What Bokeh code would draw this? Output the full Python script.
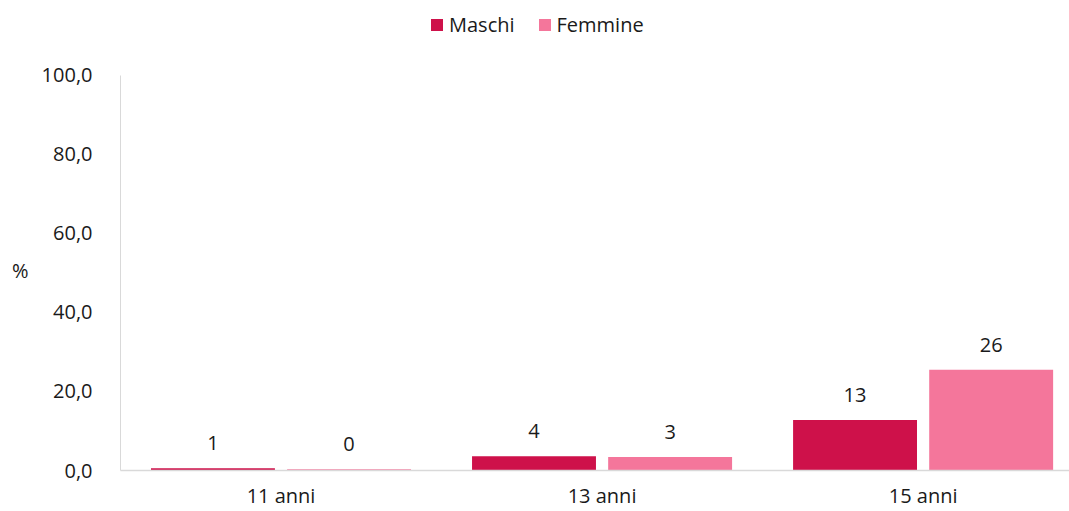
from bokeh.plotting import figure
from bokeh.models import (ColumnDataSource, Range1d, FixedTicker, LabelSet,
                          Legend, LegendItem, CustomJSTickFormatter)
from bokeh.core.properties import value
from bokeh.transform import dodge
from bokeh.embed import file_html
from bokeh.resources import INLINE

categories = ["11 anni", "13 anni", "15 anni"]
maschi = [0.6, 3.6, 12.8]
femmine = [0.3, 3.4, 25.5]
y_ticks = [0, 20, 40, 60, 80, 100]
series_names = ["Maschi", "Femmine"]
colors = ["#CE114A", "#F4769B"]

FONT = "Open Sans"
FS = "20px"
TXT = "#1a1a1a"

xs = [i + 0.5 for i in range(len(categories))]
src = ColumnDataSource(dict(
    x=xs, cat=categories, m=maschi, f=femmine,
    ml=[f"{v:.0f}" for v in maschi], fl=[f"{v:.0f}" for v in femmine],
))

p = figure(width=1069, height=511, output_backend="svg", toolbar_location=None,
           x_range=Range1d(0, 2.956), y_range=Range1d(0, 117.72),
           min_border_left=120, min_border_right=0, min_border_top=5, min_border_bottom=41)
p.outline_line_color = None
p.xgrid.visible = False
p.ygrid.visible = False

r1 = p.vbar(x=dodge("x", -0.212), top="m", width=0.386, source=src,
            color=colors[0], line_color=None)
r2 = p.vbar(x=dodge("x", 0.212), top="f", width=0.386, source=src,
            color=colors[1], line_color=None)

for col, lab, off in (("m", "ml", -0.212), ("f", "fl", 0.212)):
    ls = LabelSet(x=dodge("x", off), y=col, text=lab, source=src, y_offset=25,
                  text_align="center", text_baseline="middle",
                  text_font=value(FONT), text_font_size=value(FS), text_color=value(TXT))
    p.add_layout(ls)

# axes
p.xaxis.ticker = FixedTicker(ticks=xs)
p.xaxis.major_label_overrides = {x: c for x, c in zip(xs, categories)}
p.xaxis.major_tick_line_color = None
p.xaxis.minor_tick_line_color = None
p.xaxis.axis_line_color = "#d9d9d9"
p.xaxis.axis_line_width = 1.5
p.xaxis.major_label_text_font = FONT
p.xaxis.major_label_text_font_size = FS
p.xaxis.major_label_text_color = TXT
p.xaxis.major_label_standoff = 5

p.yaxis.ticker = FixedTicker(ticks=y_ticks)
p.yaxis.bounds = (0, 100)
p.yaxis.formatter = CustomJSTickFormatter(code="return tick.toFixed(1).replace('.', ',');")
p.yaxis.major_tick_line_color = None
p.yaxis.minor_tick_line_color = None
p.yaxis.axis_line_color = "#d9d9d9"
p.yaxis.major_label_text_font = FONT
p.yaxis.major_label_text_font_size = FS
p.yaxis.major_label_text_color = TXT
p.yaxis.major_label_standoff = 22

yax = p.yaxis[0]
yax.axis_label = "\n\n%"
yax.axis_label_orientation = "horizontal"
yax.axis_label_text_font = FONT
yax.axis_label_text_font_size = FS
yax.axis_label_text_font_style = "normal"
yax.axis_label_text_color = TXT
yax.axis_label_standoff = 10

legend = Legend(items=[LegendItem(label=series_names[0], renderers=[r1]),
                       LegendItem(label=series_names[1], renderers=[r2])],
                orientation="horizontal", location=(309, 432),
                border_line_color=None, background_fill_alpha=0,
                padding=0, margin=0, spacing=22, label_standoff=5,
                glyph_width=15, glyph_height=15,
                label_text_font=FONT, label_text_font_size=FS, label_text_color=TXT)
p.add_layout(legend, "center")

open("out.html", "w").write(file_html(p, INLINE))
